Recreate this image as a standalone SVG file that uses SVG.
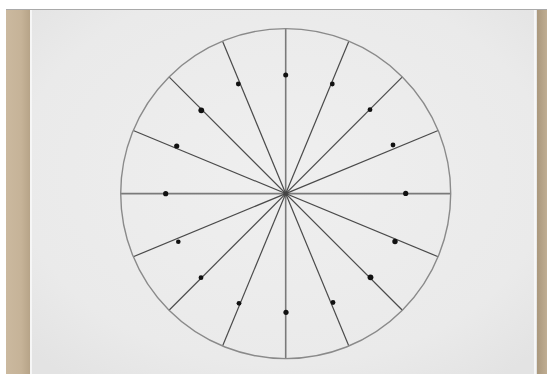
<svg xmlns="http://www.w3.org/2000/svg" width="547" height="374" viewBox="0 0 547 374">
<style>
.sp{stroke:#4a4a4a;stroke-width:1.2;fill:none}
.ax{stroke:#7a7a7a;stroke-width:1.6;fill:none}
.dot{fill:#111}
</style>
<defs>
<radialGradient id="paper" cx="0.5" cy="0.45" r="0.7">
<stop offset="0" stop-color="#efefef"/>
<stop offset="0.75" stop-color="#eaeaea"/>
<stop offset="1" stop-color="#e3e3e3"/>
</radialGradient>
<linearGradient id="tanL" x1="0" y1="0" x2="1" y2="0">
<stop offset="0" stop-color="#cbb99f"/>
<stop offset="0.6" stop-color="#c6b398"/>
<stop offset="1" stop-color="#b5a286"/>
</linearGradient>
<linearGradient id="tanR" x1="0" y1="0" x2="1" y2="0">
<stop offset="0" stop-color="#a8967b"/>
<stop offset="1" stop-color="#bfad92"/>
</linearGradient>
</defs>
<g id="background">
<rect x="0" y="0" width="547" height="374" fill="#ffffff"/>
<rect x="6" y="10" width="25" height="364" fill="url(#tanL)"/>
<rect x="536" y="10" width="11" height="364" fill="url(#tanR)"/>
<rect x="30" y="10" width="507" height="364" fill="url(#paper)"/>
<rect x="30" y="10" width="2" height="364" fill="#f6f6f6"/>
<rect x="534" y="10" width="2" height="364" fill="#f6f6f6"/>
<line x1="6" y1="9.5" x2="547" y2="9.5" stroke="#a9a9a9" stroke-width="1"/>
</g>
<g id="connectors">
<line class="ax" x1="285.7" y1="28.6" x2="285.7" y2="358.6"/>
<line class="ax" x1="120.7" y1="193.6" x2="450.7" y2="193.6"/>
<line class="sp" x1="348.84" y1="41.16" x2="222.56" y2="346.04"/>
<line class="sp" x1="402.37" y1="76.93" x2="169.03" y2="310.27"/>
<line class="sp" x1="438.14" y1="130.46" x2="133.26" y2="256.74"/>
<line class="sp" x1="438.14" y1="256.74" x2="133.26" y2="130.46"/>
<line class="sp" x1="402.37" y1="310.27" x2="169.03" y2="76.93"/>
<line class="sp" x1="348.84" y1="346.04" x2="222.56" y2="41.16"/>
</g>
<g id="circle">
<circle cx="285.7" cy="193.6" r="165" fill="none" stroke="#8a8a8a" stroke-width="1.4"/>
<circle cx="285.7" cy="193.6" r="2.2" fill="#444"/>
</g>
<g id="dots">
<circle class="dot" cx="285.7" cy="75" r="2.5"/>
<circle class="dot" cx="332.3" cy="84" r="2.4"/>
<circle class="dot" cx="370" cy="109.7" r="2.4"/>
<circle class="dot" cx="393" cy="145" r="2.4"/>
<circle class="dot" cx="405.7" cy="193.4" r="2.6"/>
<circle class="dot" cx="395" cy="241.5" r="2.7"/>
<circle class="dot" cx="370.5" cy="277.3" r="2.9"/>
<circle class="dot" cx="333" cy="302.5" r="2.4"/>
<circle class="dot" cx="286" cy="312.3" r="2.6"/>
<circle class="dot" cx="239" cy="303.3" r="2.4"/>
<circle class="dot" cx="201" cy="277.7" r="2.4"/>
<circle class="dot" cx="178.3" cy="241.7" r="2.3"/>
<circle class="dot" cx="165.7" cy="193.7" r="2.6"/>
<circle class="dot" cx="176.7" cy="146" r="2.6"/>
<circle class="dot" cx="201.3" cy="110.3" r="2.9"/>
<circle class="dot" cx="238.3" cy="84" r="2.4"/>
</g>
</svg>
